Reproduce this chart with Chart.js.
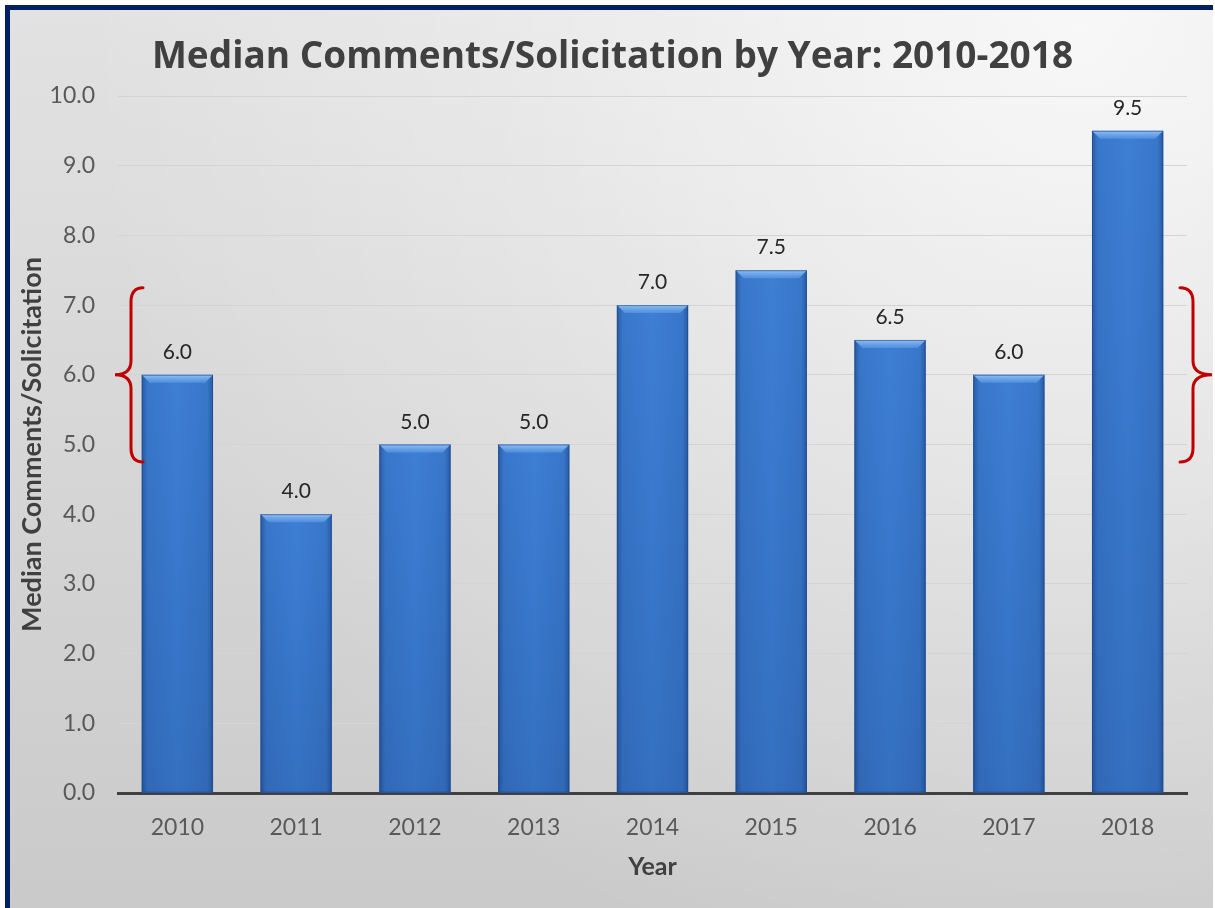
<!DOCTYPE html>
<html>
<head>
<meta charset="utf-8">
<script src="https://cdn.jsdelivr.net/npm/chart.js@4/dist/chart.umd.min.js"></script>
<style>
  html, body { margin: 0; padding: 0; background: #ffffff; }
  #wrap { width: 1215px; height: 908px; position: relative; }
  canvas { display: block; }
</style>
</head>
<body>
<div id="wrap"><canvas id="chart" width="1215" height="908"></canvas></div>
<script>
// Median comments per solicitation, by year
const years = ['2010', '2011', '2012', '2013', '2014', '2015', '2016', '2017', '2018'];
const medianComments = [6.0, 4.0, 5.0, 5.0, 7.0, 7.5, 6.5, 6.0, 9.5];
const yTicks = [0, 1, 2, 3, 4, 5, 6, 7, 8, 9, 10];
// range marked by the red braces on both sides
const braceRange = [4.75, 6.0, 7.25];

const FONT = 'Lato, "Open Sans", sans-serif';
const TITLE_FONT = '"Open Sans", Lato, sans-serif';

// frame and soft gray backdrop
const backdrop = {
  id: 'backdrop',
  beforeDraw(chart) {
    const { ctx, width, height } = chart;
    ctx.save();
    ctx.fillStyle = '#ffffff';
    ctx.fillRect(0, 0, width, height);
    const lin = ctx.createLinearGradient(0, 10, 0, height);
    lin.addColorStop(0, '#e2e2e2');
    lin.addColorStop(1, '#cacaca');
    ctx.fillStyle = lin;
    ctx.fillRect(10, 10, width - 12, height - 10);
    const rad = ctx.createRadialGradient(1080, 30, 0, 1080, 30, 1000);
    rad.addColorStop(0, 'rgba(255,255,255,0.75)');
    rad.addColorStop(0.6, 'rgba(255,255,255,0.25)');
    rad.addColorStop(1, 'rgba(255,255,255,0)');
    ctx.fillStyle = rad;
    ctx.fillRect(10, 10, width - 12, height - 10);
    ctx.fillStyle = '#002060';
    ctx.fillRect(5, 5, width - 7, 5);
    ctx.fillRect(5, 5, 5, height - 5);
    ctx.restore();
  }
};

// bevel shading on each bar plus the value label above it
const barStyle = {
  id: 'barStyle',
  afterDatasetsDraw(chart) {
    const { ctx } = chart;
    const meta = chart.getDatasetMeta(0);
    const data = chart.data.datasets[0].data;
    ctx.save();
    meta.data.forEach((bar, i) => {
      const { x, y, base, width } = bar.getProps(['x', 'y', 'base', 'width'], true);
      const l = x - width / 2, r = x + width / 2, h = base - y;
      // vertical darkening toward the base
      const vg = ctx.createLinearGradient(0, y, 0, base);
      vg.addColorStop(0, 'rgba(20,50,110,0)');
      vg.addColorStop(1, 'rgba(20,50,110,0.2)');
      ctx.fillStyle = vg;
      ctx.fillRect(l, y, width, h);
      // darker edges left and right
      const hg = ctx.createLinearGradient(l, 0, r, 0);
      hg.addColorStop(0, 'rgba(15,45,100,0.45)');
      hg.addColorStop(0.08, 'rgba(15,45,100,0.1)');
      hg.addColorStop(0.5, 'rgba(15,45,100,0)');
      hg.addColorStop(0.92, 'rgba(15,45,100,0.1)');
      hg.addColorStop(1, 'rgba(15,45,100,0.45)');
      ctx.fillStyle = hg;
      ctx.fillRect(l, y, width, h);
      // light chamfered top
      const bv = 8;
      const tg = ctx.createLinearGradient(0, y, 0, y + bv);
      tg.addColorStop(0, 'rgba(150,198,248,0.95)');
      tg.addColorStop(1, 'rgba(95,155,230,0.6)');
      ctx.fillStyle = tg;
      ctx.beginPath();
      ctx.moveTo(l, y);
      ctx.lineTo(r, y);
      ctx.lineTo(r - bv, y + bv);
      ctx.lineTo(l + bv, y + bv);
      ctx.closePath();
      ctx.fill();
      // thin outline
      ctx.strokeStyle = 'rgba(30,70,140,0.6)';
      ctx.lineWidth = 1;
      ctx.strokeRect(l + 0.5, y + 0.5, width - 1, h - 1);
      // value label
      ctx.fillStyle = '#262626';
      ctx.font = '21px ' + FONT;
      ctx.textAlign = 'center';
      ctx.textBaseline = 'alphabetic';
      ctx.fillText(data[i].toFixed(1), x, y - 16);
    });
    ctx.restore();
  }
};

// red curly braces marking the range on both sides of the plot
const braces = {
  id: 'braces',
  afterDraw(chart) {
    const { ctx } = chart;
    const ys = chart.scales.y;
    const yTop = ys.getPixelForValue(braceRange[2]);
    const yMid = ys.getPixelForValue(braceRange[1]);
    const yBot = ys.getPixelForValue(braceRange[0]);
    const area = chart.chartArea;
    function brace(stem, tip, end) {
      const d = 14;
      ctx.beginPath();
      ctx.moveTo(end, yTop);
      ctx.quadraticCurveTo(stem, yTop, stem, yTop + d);
      ctx.lineTo(stem, yMid - d);
      ctx.quadraticCurveTo(stem, yMid, tip, yMid);
      ctx.quadraticCurveTo(stem, yMid, stem, yMid + d);
      ctx.lineTo(stem, yBot - d);
      ctx.quadraticCurveTo(stem, yBot, end, yBot);
      ctx.stroke();
    }
    ctx.save();
    ctx.strokeStyle = '#c00000';
    ctx.lineWidth = 3;
    ctx.lineCap = 'round';
    brace(area.left + 13, area.left - 3, area.left + 25);
    brace(area.right + 6, area.right + 25, area.right - 7);
    ctx.restore();
  }
};

new Chart(document.getElementById('chart'), {
  type: 'bar',
  data: {
    labels: years,
    datasets: [{
      data: medianComments,
      backgroundColor: '#3d7fd5',
      borderWidth: 0,
      barPercentage: 0.6,
      categoryPercentage: 1.0
    }]
  },
  options: {
    responsive: false,
    animation: false,
    layout: { padding: { left: 10, top: 10, right: 0, bottom: 0 } },
    plugins: {
      legend: { display: false },
      tooltip: { enabled: false },
      title: {
        display: true,
        text: 'Median Comments/Solicitation by Year: 2010-2018',
        color: '#404040',
        font: { family: TITLE_FONT, size: 37, weight: 'bold', lineHeight: 1.2 },
        padding: { top: 24.8, bottom: 16.8 }
      }
    },
    scales: {
      x: {
        grid: { display: false },
        border: { display: true, color: '#404040', width: 3 },
        ticks: { color: '#595959', font: { family: FONT, size: 23 }, padding: 13 },
        title: {
          display: true, text: 'Year', color: '#404040',
          font: { family: FONT, size: 25, weight: 'bold', lineHeight: 1.2 },
          padding: { top: 0, bottom: 26 }
        },
        afterFit(scale) { scale.height = 115; }
      },
      y: {
        min: 0, max: 10,
        afterBuildTicks(scale) { scale.ticks = yTicks.map(v => ({ value: v })); },
        grid: { color: '#d4d4d4', lineWidth: 1, drawTicks: false },
        border: { display: false },
        ticks: {
          color: '#595959', font: { family: FONT, size: 23 }, padding: 23,
          callback: v => Number(v).toFixed(1)
        },
        title: {
          display: true, text: 'Median Comments/Solicitation', color: '#404040',
          font: { family: FONT, size: 27, weight: 'bold', lineHeight: 1.2 },
          padding: { top: 6, bottom: 0 }
        },
        afterFit(scale) { scale.width = 108; }
      },
      // empty margin on the right that holds the right-hand brace
      yRight: {
        position: 'right',
        min: 0, max: 10,
        grid: { display: false, drawOnChartArea: false },
        border: { display: false },
        ticks: { display: false },
        afterFit(scale) { scale.width = 28; }
      }
    }
  },
  plugins: [backdrop, barStyle, braces]
});
</script>
</body>
</html>
